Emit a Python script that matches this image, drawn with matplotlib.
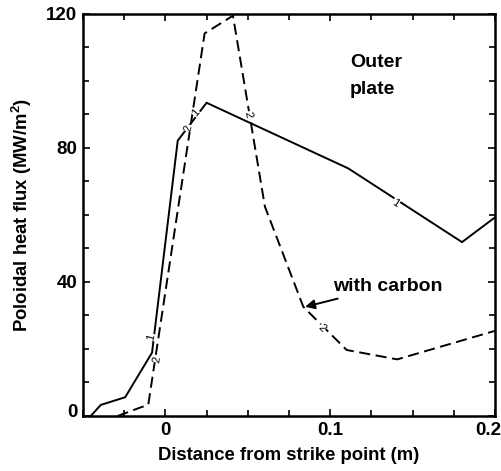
import matplotlib
matplotlib.use("Agg")
import matplotlib.pyplot as plt
from matplotlib.ticker import MultipleLocator, FixedLocator
from matplotlib.transforms import ScaledTranslation

plt.rcParams['font.family'] = ['Liberation Sans', 'DejaVu Sans']
plt.rcParams['font.weight'] = 'bold'
plt.rcParams['mathtext.fontset'] = 'custom'
plt.rcParams['mathtext.rm'] = 'Liberation Sans:bold'
plt.rcParams['mathtext.bf'] = 'Liberation Sans:bold'
plt.rcParams['mathtext.it'] = 'Liberation Sans:bold'
plt.rcParams['lines.scale_dashes'] = False

# Data: curve 1 (solid) and curve 2 (dashed, with carbon)
x_solid = [-0.0453, -0.0392, -0.0244, -0.0081, 0.0075, 0.025, 0.111, 0.180, 0.2006]
y_solid = [0.0, 3.3, 5.6, 18.9, 82.2, 93.5, 73.9, 51.9, 59.5]

x_dash = [-0.029, -0.0148, -0.0104, 0.0238, 0.041, 0.0604, 0.0837, 0.110, 0.1407, 0.2006]
y_dash = [0.0, 2.6, 3.3, 114.2, 119.5, 62.5, 32.6, 19.7, 16.9, 25.5]

xticks = [0, 0.1, 0.2]
xticklabels = ['0', '0.1', '0.2']
yticks = [0, 40, 80, 120]
yticklabels = ['0', '40', '80', '120']

# curve labels: (x, y, text, rotation)
lab_x = [-0.0087, -0.0050, 0.0187, 0.0142, 0.0502, 0.1396, 0.0950]
lab_y = [23.6, 17.0, 90.4, 85.9, 89.9, 63.5, 26.2]
lab_t = ['1', '2', '1', '2', '2', '1', '2']
lab_r = [75, 80, 50, 75, -80, -33, -45]

fig = plt.figure(figsize=(5.02, 4.71), dpi=100)
ax = fig.add_axes([0.1653, 0.1168, 0.8207, 0.8535])

ax.plot(x_solid, y_solid, color='black', lw=1.4, solid_joinstyle='miter')
ax.plot(x_dash, y_dash, color='black', lw=1.4, linestyle=(0, (8, 4)))

for xx, yy, t, r in zip(lab_x, lab_y, lab_t, lab_r):
    ax.text(xx, yy, t, fontsize=8, rotation=r, ha='center', va='center',
            fontweight='normal',
            bbox=dict(facecolor='white', edgecolor='none', pad=0.2))

ax.set_xlim(-0.05, 0.2)
ax.set_ylim(0, 120)
ax.xaxis.set_major_locator(FixedLocator(xticks))
ax.set_xticklabels(xticklabels)
ax.xaxis.set_minor_locator(MultipleLocator(0.025))
ax.yaxis.set_major_locator(FixedLocator(yticks))
ax.set_yticklabels(yticklabels)
ax.yaxis.set_minor_locator(MultipleLocator(10))

ax.tick_params(which='both', direction='in', top=True, right=True, width=1.2)
ax.tick_params(which='major', length=5, labelsize=13.5, pad=4)
ax.tick_params(which='minor', length=4)
for s in ax.spines.values():
    s.set_linewidth(1.8)

# shift last x tick label slightly left so it stays inside the figure
last = ax.get_xticklabels()[-1]
last.set_transform(last.get_transform() + ScaledTranslation(-5 / 72, 0, fig.dpi_scale_trans))
# raise the "0" y tick label a little, as in the reference
first = ax.get_yticklabels()[0]
first.set_transform(first.get_transform() + ScaledTranslation(0, 4 / 72, fig.dpi_scale_trans))

ax.set_xlabel('Distance from strike point (m)', fontsize=13.3, fontweight='bold', labelpad=6)
ax.set_ylabel('Poloidal heat flux (MW/m$^{2}$)', fontsize=13.3, fontweight='bold', labelpad=9)

ax.text(0.112, 105.4, 'Outer', fontsize=14, fontweight='bold', ha='left', va='center')
ax.text(0.112, 97.6, 'plate', fontsize=14, fontweight='bold', ha='left', va='center')

ax.annotate('with carbon', xy=(0.0848, 32.6), xytext=(0.102, 38.8),
            fontsize=14, fontweight='bold', ha='left', va='center',
            arrowprops=dict(arrowstyle='-|>', color='black', lw=1.4,
                            mutation_scale=14, shrinkA=4, shrinkB=0))

fig.savefig('out.png', dpi=100)
